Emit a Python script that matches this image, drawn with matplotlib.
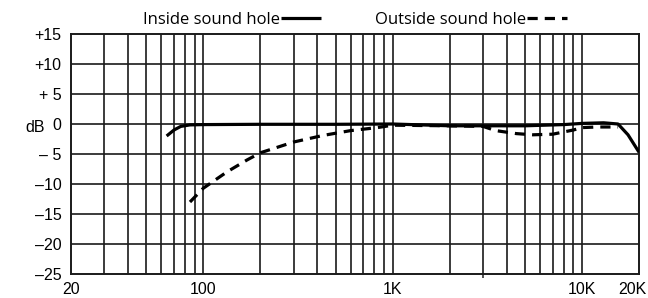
import matplotlib
matplotlib.use("Agg")
import matplotlib.pyplot as plt
from matplotlib.ticker import FixedLocator, NullFormatter
from matplotlib.transforms import ScaledTranslation

# frequency response
inside_freq = [64, 70, 76, 85, 100, 200, 500, 1000, 2000, 3000, 5000, 8000,
               10000, 13000, 15500, 17500, 20000]
inside_db = [-2.0, -1.0, -0.4, -0.15, -0.1, -0.05, -0.05, 0.0, -0.3, -0.3,
             -0.3, -0.1, 0.1, 0.2, 0.0, -1.8, -4.7]

outside_freq = [85, 100, 133, 170, 200, 300, 430, 600, 830, 1000, 2000, 3000,
                3500, 4500, 5500, 7000, 9000, 10000, 12000, 15500]
outside_db = [-13.0, -10.7, -8.0, -6.0, -4.8, -3.0, -1.9, -1.1, -0.6, -0.2,
              -0.3, -0.4, -1.1, -1.6, -1.8, -1.7, -1.0, -0.6, -0.5, -0.5]

x_ticks = [20, 100, 1000, 10000, 20000]
x_labels = ["20", "100", "1K", "10K", "20K"]
x_grid = [30, 40, 50, 60, 70, 80, 90, 100,
          200, 300, 400, 500, 600, 700, 800, 900, 1000,
          2000, 3000, 4000, 5000, 6000, 7000, 8000, 9000, 10000]
y_ticks = [15, 10, 5, 0, -5, -10, -15, -20, -25]
y_labels = ["+15", "+10", "+ 5", "0", "\u2013 5", "\u201310", "\u201315", "\u201320", "\u201325"]

plt.rcParams["font.family"] = ["Liberation Sans", "DejaVu Sans"]

fig = plt.figure(figsize=(6.48, 2.98), dpi=100)
ax = fig.add_axes([71 / 648, 1 - 274 / 298, 568 / 648, 240 / 298])

ax.set_xscale("log")
ax.set_xlim(20, 20000)
ax.set_ylim(-25, 15)

for f in x_grid:
    ax.axvline(f, color="#1a1a1a", lw=1.2, zorder=1)
for v in y_ticks[1:-1]:
    ax.axhline(v, color="#1a1a1a", lw=1.2, zorder=1)

ax.plot(inside_freq, inside_db, color="black", lw=2.3, solid_capstyle="butt",
        label="Inside sound hole", zorder=3)
ax.plot(outside_freq, outside_db, color="black", lw=2.3, dashes=(3.2, 2.2),
        label="Outside sound hole", zorder=3)

ax.xaxis.set_major_locator(FixedLocator(x_ticks))
ax.set_xticklabels(x_labels)
ax.xaxis.set_minor_locator(FixedLocator([3000]))
ax.xaxis.set_minor_formatter(NullFormatter())
ax.tick_params(axis="x", which="major", length=0, pad=6, labelsize=11.5)
ax.tick_params(axis="x", which="minor", length=3, width=1.1, color="#222222")
ax.set_yticks(y_ticks)
ax.set_yticklabels(y_labels)
ax.tick_params(axis="y", length=0, pad=7, labelsize=11.5)

# the reference pulls the 20K label in so it stays inside the picture
last = ax.get_xticklabels()[-1]
last.set_transform(last.get_transform() + ScaledTranslation(-0.07, 0, fig.dpi_scale_trans))

for sp in ax.spines.values():
    sp.set_linewidth(1.4)
    sp.set_color("#1a1a1a")

fig.text(25 / 648, 1 - 127 / 298, "dB", fontsize=11.5, va="center", ha="left")

ax.legend(loc="lower center", bbox_to_anchor=(0.5, 0.99), ncol=2, frameon=False,
          markerfirst=False, handlelength=2.4, handletextpad=0.1,
          columnspacing=3.2, borderaxespad=0.1,
          prop={"family": ["Open Sans", "DejaVu Sans"], "size": 12})

fig.savefig("out.png", dpi=100)
